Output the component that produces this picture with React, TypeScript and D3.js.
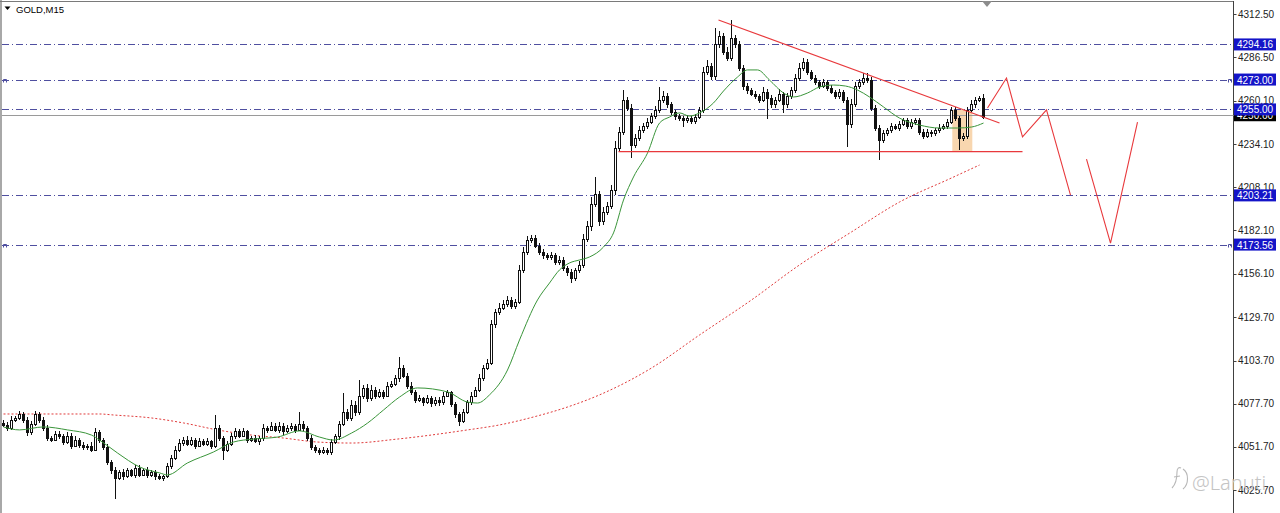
import React from "react";
import * as d3 from "d3";

const W = 1280;
const H = 513;

const closes: number[] = [
  4064.9, 4063, 4068, 4069, 4071.5, 4068, 4060.5, 4065.5, 4071.5, 4068,
  4063, 4057, 4056, 4059.5, 4058.5, 4054.5, 4058.5, 4052.5, 4056, 4053,
  4051.5, 4052.5, 4050, 4060.5, 4056, 4051.5, 4042.5, 4037.5, 4033, 4036.5,
  4034, 4037.5, 4035, 4039, 4035, 4037.5, 4035, 4036.5, 4034, 4033,
  4034, 4040, 4045, 4050, 4054, 4056, 4053.5, 4056, 4052.5, 4055,
  4053.5, 4055, 4052.5, 4063, 4057, 4050, 4053.5, 4058.5, 4061, 4058.5,
  4061, 4056, 4057, 4055, 4057, 4063, 4062, 4064.5, 4062, 4064.5,
  4061, 4063, 4064.5, 4062, 4065.5, 4063, 4057, 4051.5, 4050, 4048.5,
  4050, 4048.5, 4054.5, 4058, 4065.5, 4072.5, 4069, 4077, 4072.5, 4082.5,
  4087, 4081, 4086, 4082.5, 4084.5, 4082.5, 4088.5, 4089.5, 4093, 4099,
  4094.5, 4088.5, 4084.5, 4080, 4081, 4078.5, 4081, 4078, 4080, 4078.5,
  4082.5, 4084.5, 4077.5, 4071.5, 4067.5, 4072.5, 4078.5, 4082.5, 4086, 4093,
  4099, 4102.5, 4125.5, 4133, 4135.5, 4138, 4140, 4136.5, 4139, 4158.5,
  4169, 4176.5, 4177.5, 4173, 4169, 4167, 4166, 4167, 4163, 4164.5,
  4159.5, 4157, 4153.5, 4158, 4161.5, 4177, 4184.5, 4198, 4204, 4187.5,
  4193.5, 4197, 4206.5, 4231.8, 4241.5, 4260.7, 4256, 4233.5, 4238, 4242.5,
  4245, 4247.5, 4251, 4254.7, 4260.7, 4263, 4258, 4253.5, 4251, 4250,
  4248.5, 4250, 4248, 4250.5, 4254.7, 4277.5, 4281, 4275, 4294.5, 4299,
  4289.5, 4286, 4298, 4294.5, 4280, 4269, 4266.5, 4264.3, 4263, 4260.7,
  4265.5, 4262, 4258, 4260.7, 4264.3, 4258, 4263, 4266.7, 4274, 4280,
  4283.5, 4277.5, 4274, 4271.5, 4269.3, 4271.5, 4268, 4265.5, 4263, 4265.5,
  4260.7, 4246, 4258, 4269.3, 4271.5, 4274, 4272.7, 4256, 4244, 4236.6,
  4240.5, 4242.6, 4245, 4244, 4246.3, 4248.6, 4245, 4247.5, 4248.6, 4241.5,
  4239, 4241.5, 4240.5, 4242.6, 4244, 4245, 4247.5, 4254.7, 4250, 4237.8,
  4239, 4254.7, 4258, 4260.7, 4262, 4250.6,
];

const firstOpen = 4066;

const upperWick: number[] = [
  2, 1.5, 2, 1.5, 2, 1, 1.5, 2, 1.5, 1,
  1.5, 2, 1, 2, 1.5, 1, 2, 1.5, 2, 1,
  1.5, 1, 2, 2.5, 1.5, 1, 2, 1.5, 2, 1.5,
  2, 1.5, 1, 2, 1.5, 1, 2, 1.5, 1, 1.5,
  1, 2, 1.5, 2, 2.5, 1.5, 2, 1.5, 1, 2,
  1.5, 2, 1, 7.7, 2, 1.5, 2, 1.5, 2, 1.5,
  2, 1, 1.5, 2, 1.5, 2.5, 1.5, 2, 1.5, 2,
  1.5, 2, 1.5, 1, 7, 1.5, 1, 2, 1.5, 1,
  1.5, 1, 2, 1.5, 2, 11.5, 2, 3, 2.5, 9.5,
  2, 2.5, 3, 1.5, 2, 1.5, 2, 2, 2, 7,
  2, 1.5, 2, 1.5, 2, 1, 2, 1.5, 2, 1.5,
  2, 1.5, 1, 1.5, 1, 2, 1.5, 2, 2, 2.5,
  2, 2, 2.5, 2, 3, 2, 2.5, 2, 2, 3,
  3, 2.5, 2, 2, 1.5, 2, 1.5, 2, 1.5, 2,
  1.5, 1, 2, 1.5, 2, 3, 3, 4, 10, 2,
  3, 2, 3, 4, 3, 6, 2, 2, 2, 2.5,
  2, 2.5, 2, 2.5, 8, 3, 2, 1.5, 1, 1.5,
  1, 1.5, 1, 1.5, 2, 3, 4, 2, 9.5, 3,
  2, 3, 11, 2, 2, 1.5, 2, 1.5, 2, 1.5,
  3, 2, 1.5, 2, 3, 1.5, 2, 2, 2.5, 3,
  2.5, 2, 1.5, 2, 1.5, 2, 1.5, 2, 1, 2,
  1.5, 2, 3, 2.5, 2, 3, 3, 2, 1.5, 1.5,
  2, 1.5, 2, 1.5, 2, 1.5, 1, 2, 1.5, 1,
  1.5, 2, 1, 1.5, 2, 1.5, 2, 2, 1.5, 1,
  2, 2, 2.5, 2, 1, 2,
];

const lowerWick: number[] = [
  1.5, 2, 1, 1.5, 1, 2, 2.5, 1.5, 1, 2,
  1.5, 2, 1.5, 1, 2, 1.5, 1, 2, 1, 2,
  1.5, 2, 1.5, 1, 2, 1.5, 2, 2, 13, 1.5,
  2, 1, 1.5, 2, 1.5, 1, 2, 1.5, 2, 1.5,
  2, 1, 1.5, 1, 1.5, 2, 1.5, 1, 2, 1,
  1.5, 1, 2, 1.5, 1.5, 6, 1.5, 1, 2, 1.5,
  1, 2, 1.5, 1, 2, 1.5, 2, 1, 1.5, 2,
  2, 1, 1.5, 2, 1, 1.5, 2, 1.5, 2, 1.5,
  1, 2, 1.5, 1, 2, 1.5, 2, 1.5, 2, 1.5,
  2, 2, 1.5, 2, 1.5, 2, 1, 1.5, 1, 2,
  1.5, 2, 1.5, 2, 1.5, 2, 1, 2, 1.5, 2,
  1.5, 1, 2, 2.5, 3, 1.5, 1, 1.5, 1, 1,
  1.5, 1, 1.5, 2, 2, 1.5, 2, 2, 1.5, 1.5,
  2, 2, 2, 1.5, 2, 2, 1.5, 2, 2, 1.5,
  2, 2.5, 3, 2, 1.5, 2, 2, 3, 2, 3,
  2, 2, 2, 3, 2, 2, 2, 8, 2, 2,
  1.5, 2, 1.5, 2, 2, 2, 2, 2, 2.5, 2,
  4, 1.5, 2, 1.5, 1, 2, 2, 2, 2, 2.5,
  2, 2, 2, 2.5, 2, 2, 2, 1.5, 2, 2,
  1.5, 13, 2, 2, 1.5, 5, 2, 1.5, 2, 2,
  2, 2, 1.5, 2, 2, 1.5, 2, 1.5, 2, 1.5,
  2, 13.6, 2, 1.5, 2, 1.5, 2, 2, 2, 12,
  2, 1.5, 2, 1.5, 2, 1.5, 2, 1.5, 2, 2,
  2, 1.5, 2, 1.5, 2, 1.5, 2, 1.5, 2, 7,
  2, 2, 1.5, 2, 1.5, 1.5,
];

// moving averages [bar index, price]
const maFast: [number, number][] = [
  [0, 4063.7], [4, 4061.9], [10, 4063.7], [16, 4061.9], [22, 4058.8], [24, 4055.8],
  [28.5, 4048], [34, 4039.6], [39, 4036], [41, 4034.8], [46, 4042], [52.5, 4048.6],
  [57.5, 4054.6], [62.5, 4056.4], [68.5, 4057.6], [74, 4061.3], [79, 4057.6],
  [82.5, 4055.8], [87, 4060], [91, 4066], [95, 4073.9], [99, 4081.7], [103.5, 4087.2],
  [111, 4084.8], [116, 4078.7], [118.5, 4078.1], [121.5, 4083], [126, 4098],
  [129, 4116.1], [133.5, 4140.2], [136.5, 4150.4], [139, 4158.3], [141.5, 4162.5],
  [144, 4164.3], [146.5, 4166.1], [150, 4172.1], [152.5, 4180.6], [155, 4200.4],
  [157.5, 4214.3], [161, 4228.7], [164, 4246.8], [166.5, 4250.4], [169, 4252.9],
  [171.5, 4251], [174, 4252.9], [177.5, 4258.9], [180, 4266.1], [183.5, 4274.5],
  [186, 4278.8], [188.5, 4278.8], [191.5, 4272.7], [195, 4264.9], [197.5, 4262.5],
  [201, 4264.9], [204, 4268.5], [207.5, 4269.7], [210.5, 4269.1], [213.5, 4266.7],
  [216.5, 4262.5], [220, 4256.5], [224, 4249.8], [229, 4245.6], [234, 4243.8],
  [238.5, 4243.8], [242, 4244.4], [245, 4246.8],
];

const maSlow: [number, number][] = [
  [0, 4071.5], [7.5, 4071.5], [24, 4071.5], [27.5, 4070.9], [37, 4069.1], [45, 4066.1],
  [53.5, 4061.9], [62, 4058.8], [70, 4057], [78.5, 4054.6], [87, 4054], [98.5, 4056.4],
  [116, 4061.9], [124, 4064.9], [132.5, 4069.7], [141, 4075.7], [149, 4083],
  [162, 4099.2], [174, 4119.1], [187, 4140.2], [199, 4161.3], [212, 4181.2],
  [224, 4199.2], [237, 4213.7], [244, 4221.5],
];

const axisTicks: number[] = [
  4312.5, 4286.5, 4260.1, 4234.1, 4208.1, 4182.1, 4156.1, 4129.7, 4103.7, 4077.7, 4051.7, 4025.7,
];

const levels: number[] = [4294.16, 4273.0, 4255.0, 4203.21, 4173.56];
const markedLevels: number[] = [4273.0, 4173.56];
const currentPrice = 4250.6;

// drawn analysis
const trendLine: [number, number][] = [[178.75, 4308.9], [249, 4246.8]];
const supportLine: [number, number][] = [[153.75, 4229.6], [254.75, 4229.6]];
const projectionA: [number, number][] = [
  [246, 4255.9], [250.75, 4273.9], [254.75, 4238.4], [260.75, 4254.7], [266.75, 4203.4],
];
const projectionB: [number, number][] = [[270.75, 4225.1], [276.75, 4174.5], [283.5, 4247.4]];
const highlightBars: [number, number] = [237.2, 242.2];
const highlightPrices: [number, number] = [4254.7, 4229.6];

const symbolLabel = "GOLD,M15";
const watermark = "@Lanuti";

export default function App() {
  const x = d3.scaleLinear().domain([0, 307.5]).range([3.5, 1233.5]);
  const y = d3.scaleLinear().domain([4025.7, 4312.5]).range([490, 14]);
  const axisX = 1233.5;

  const candles = closes.map((c, i) => {
    const o = i === 0 ? firstOpen : closes[i - 1];
    const h = Math.max(o, c) + upperWick[i];
    const l = Math.min(o, c) - lowerWick[i];
    return { i, o, c, h, l };
  });

  const lineGen = d3
    .line<[number, number]>()
    .x((d) => x(d[0]))
    .y((d) => y(d[1]));
  const smoothGen = d3
    .line<[number, number]>()
    .x((d) => x(d[0]))
    .y((d) => y(d[1]))
    .curve(d3.curveMonotoneX);

  const font = "'Liberation Sans', Arial, sans-serif";
  const levelLine = "#4f4fa0";
  const boxBlue = "#1414c8";
  const red = "#e8393c";

  return (
    <svg
      width={W}
      height={H}
      style={{ position: "fixed", left: 0, top: 0, background: "#fff" }}
      fontFamily={font}
    >
      <rect x={0} y={0} width={W} height={H} fill="#fff" />
      {/* frame */}
      <rect x={0} y={0} width={2} height={H} fill="#a8a8a8" />
      <line x1={0} x2={axisX} y1={1.5} y2={1.5} stroke="#7a7a7a" />
      <line x1={axisX} x2={axisX} y1={1} y2={H} stroke="#404040" />

      {/* highlight */}
      <rect
        x={x(highlightBars[0])}
        y={y(highlightPrices[0])}
        width={x(highlightBars[1]) - x(highlightBars[0])}
        height={y(highlightPrices[1]) - y(highlightPrices[0])}
        fill="#f6c894"
        opacity={0.75}
      />

      {/* levels */}
      {levels.map((v) => (
        <line
          key={"lv" + v}
          x1={2}
          x2={axisX}
          y1={Math.round(y(v)) + 0.5}
          y2={Math.round(y(v)) + 0.5}
          stroke={levelLine}
          strokeDasharray="7,3,1,3"
        />
      ))}
      {markedLevels.map((v) => (
        <g key={"mk" + v} fill="none" stroke={levelLine}>
          <path d={`M3.5,${Math.round(y(v)) + 2.5} V${Math.round(y(v)) - 0.5} H6.5 V${Math.round(y(v)) + 2.5}`} />
          <path d={`M1228.5,${Math.round(y(v)) + 2.5} V${Math.round(y(v)) - 0.5} H1231.5 V${Math.round(y(v)) + 2.5}`} />
        </g>
      ))}
      <line
        x1={2}
        x2={axisX}
        y1={Math.round(y(currentPrice)) - 1.5}
        y2={Math.round(y(currentPrice)) - 1.5}
        stroke="#9a9a9a"
      />

      {/* slow MA */}
      <path d={smoothGen(maSlow) || ""} fill="none" stroke="#e03a3a" strokeWidth={1} strokeDasharray="2,2" />

      {/* candles */}
      <g shapeRendering="crispEdges">
        {candles.map((d) => {
          const cx = x(d.i);
          const top = Math.round(y(Math.max(d.o, d.c)));
          const bot = Math.round(y(Math.min(d.o, d.c)));
          const bull = d.c >= d.o;
          return (
            <g key={"c" + d.i}>
              <line x1={cx} x2={cx} y1={y(d.h)} y2={y(d.l)} stroke="#111" />
              {bot - top < 1 ? (
                <line x1={cx - 1.5} x2={cx + 1.5} y1={top + 0.5} y2={top + 0.5} stroke="#111" />
              ) : (
                <rect
                  x={cx - 1}
                  y={top + 0.5}
                  width={2}
                  height={bot - top}
                  fill={bull ? "#fff" : "#111"}
                  stroke="#111"
                />
              )}
            </g>
          );
        })}
      </g>

      {/* fast MA */}
      <path d={smoothGen(maFast) || ""} fill="none" stroke="#3a953a" strokeWidth={1} />

      {/* analysis lines */}
      <path d={lineGen(trendLine) || ""} fill="none" stroke={red} strokeWidth={1.1} />
      <path d={lineGen(supportLine) || ""} fill="none" stroke={red} strokeWidth={1.1} />
      <path d={lineGen(projectionA) || ""} fill="none" stroke={red} strokeWidth={1.1} />
      <path d={lineGen(projectionB) || ""} fill="none" stroke={red} strokeWidth={1.1} />

      {/* axis ticks */}
      {axisTicks.map((v) => (
        <g key={"t" + v}>
          <line x1={axisX} x2={axisX + 3} y1={Math.round(y(v)) + 0.5} y2={Math.round(y(v)) + 0.5} stroke="#404040" />
          <text x={1238} y={y(v) + 3.5} fontSize={10} fill="#222">
            {v.toFixed(2)}
          </text>
        </g>
      ))}

      {/* current price box */}
      <rect x={axisX + 0.5} y={y(currentPrice) - 7.5} width={42} height={12} fill="#000" />
      <text x={1237} y={y(currentPrice) + 2.5} fontSize={10} fill="#fff">
        {currentPrice.toFixed(2)}
      </text>

      {/* level boxes */}
      {levels.map((v) => (
        <g key={"lb" + v}>
          <rect x={axisX + 0.5} y={y(v) - 6} width={42} height={12} fill={boxBlue} />
          <text x={1237} y={y(v) + 4} fontSize={10} fill="#fff">
            {v.toFixed(2)}
          </text>
        </g>
      ))}

      {/* title */}
      <path d="M4.5,6.5 L10.5,6.5 L7.5,10 Z" fill="#000" />
      <text x={16} y={13} fontSize={9.5} fill="#000">
        {symbolLabel}
      </text>

      {/* shift marker */}
      <path d="M982,1 L992,1 L987,7 Z" fill="#8c8c8c" />

      {/* watermark */}
      <g fill="none" stroke="#b8b8b8" strokeWidth={1.1}>
        <path d="M1172,488 C1176,484 1177,478 1177,472 C1177,468 1179,467 1181,468" />
        <path d="M1174,477 L1180,476" />
        <path d="M1183,469 C1189,473 1189,484 1183,489" />
      </g>
      <text x={1192} y={490} fontSize={20} fill="#c4c4c4" fontFamily="'Noto Sans', sans-serif" fontWeight={300}>
        {watermark}
      </text>
    </svg>
  );
}
